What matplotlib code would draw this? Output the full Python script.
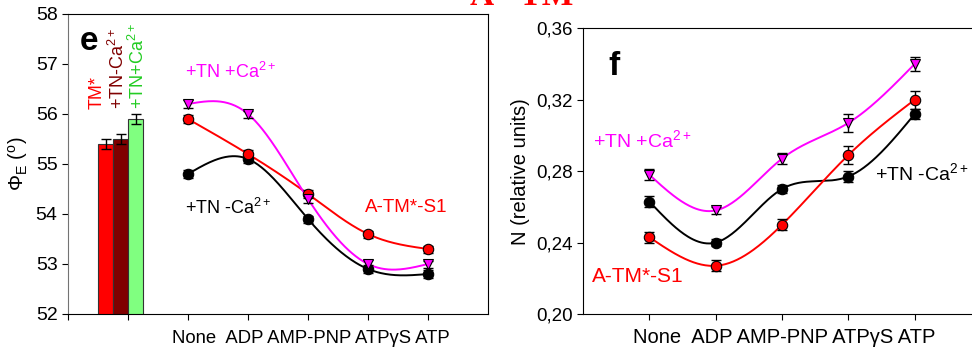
import numpy as np
import matplotlib
matplotlib.use("Agg")
import matplotlib.pyplot as plt
import matplotlib.transforms as mtransforms

plt.rcParams['font.family'] = ['Liberation Sans', 'DejaVu Sans']
plt.rcParams['mathtext.fontset'] = 'custom'
plt.rcParams['mathtext.rm'] = 'Liberation Sans'
plt.rcParams['mathtext.it'] = 'Liberation Sans:italic'
plt.rcParams['mathtext.bf'] = 'Liberation Sans:bold'

# ---------------- data ----------------
categories = ["None", "ADP", "AMP-PNP", "ATP\u03b3S", "ATP"]

bar_labels = ["TM*", "+TN-Ca$^{\\mathrm{2+}}$", "+TN+Ca$^{\\mathrm{2+}}$"]
bar_values = [55.4, 55.5, 55.9]
bar_errors = [0.1, 0.1, 0.1]
bar_colors = ["#ff0000", "#800000", "#80ff80"]
bar_text_colors = ["#ff0000", "#800000", "#22cc22"]

# panel e (phi_E)
e_tn_ca = [56.2, 56.0, 54.3, 53.0, 53.0]
e_tn_ca_err = [0.08, 0.07, 0.08, 0.08, 0.07]
e_atms1 = [55.9, 55.2, 54.4, 53.6, 53.3]
e_atms1_err = [0.08, 0.08, 0.08, 0.07, 0.07]
e_tn_noca = [54.8, 55.1, 53.9, 52.9, 52.8]
e_tn_noca_err = [0.08, 0.08, 0.07, 0.08, 0.08]

# panel f (N)
f_tn_ca = [0.278, 0.258, 0.287, 0.307, 0.340]
f_tn_ca_err = [0.003, 0.002, 0.003, 0.005, 0.004]
f_atms1 = [0.243, 0.227, 0.250, 0.289, 0.320]
f_atms1_err = [0.003, 0.003, 0.003, 0.005, 0.005]
f_tn_noca = [0.263, 0.240, 0.270, 0.277, 0.312]
f_tn_noca_err = [0.003, 0.002, 0.002, 0.003, 0.003]


def natural_spline(x, y, n=200):
    x = np.asarray(x, float)
    y = np.asarray(y, float)
    m = len(x)
    h = np.diff(x)
    A = np.zeros((m, m))
    b = np.zeros(m)
    A[0, 0] = 1
    A[-1, -1] = 1
    for i in range(1, m - 1):
        A[i, i - 1] = h[i - 1]
        A[i, i] = 2 * (h[i - 1] + h[i])
        A[i, i + 1] = h[i]
        b[i] = 3 * ((y[i + 1] - y[i]) / h[i] - (y[i] - y[i - 1]) / h[i - 1])
    c = np.linalg.solve(A, b)
    xs = np.linspace(x[0], x[-1], n)
    ys = np.empty_like(xs)
    for k, xv in enumerate(xs):
        i = min(np.searchsorted(x, xv, side='right') - 1, m - 2)
        i = max(i, 0)
        bi = (y[i + 1] - y[i]) / h[i] - h[i] * (2 * c[i] + c[i + 1]) / 3
        di = (c[i + 1] - c[i]) / (3 * h[i])
        dx = xv - x[i]
        ys[k] = y[i] + bi * dx + c[i] * dx ** 2 + di * dx ** 3
    return xs, ys


def series(ax, x, y, err, color, marker, ms):
    xs, ys = natural_spline(x, y)
    ax.plot(xs, ys, color=color, lw=1.4, zorder=2)
    ax.errorbar(x, y, yerr=err, fmt='none', ecolor='black', elinewidth=1,
                capsize=3.5, capthick=1, zorder=3)
    ax.plot(x, y, linestyle='none', marker=marker, ms=ms, mfc=color,
            mec='black', mew=0.8, zorder=4)


category_line = categories[0] + "  " + " ".join(categories[1:])

fig = plt.figure(figsize=(9.72, 3.52), dpi=100)

# ---------------- panel e ----------------
ax1 = fig.add_axes([68 / 972, 38 / 352, 420 / 972, 300 / 352])
ax1.set_xlim(0, 7)
ax1.set_ylim(52, 58)
bar_x = [0.625, 0.875, 1.125]
ax1.bar(bar_x, bar_values, width=0.25, bottom=0, color=bar_colors,
        edgecolor='#333333', linewidth=0.8, yerr=bar_errors,
        error_kw=dict(ecolor='black', elinewidth=1, capsize=3.5, capthick=1),
        zorder=2)
text_x = [0.48, 0.83, 1.17]
for tx, lab, col in zip(text_x, bar_labels, bar_text_colors):
    ax1.text(tx, 56.1, lab, rotation=90, ha='center', va='bottom',
             color=col, fontsize=13)

xc = np.arange(2, 7)
series(ax1, xc, e_tn_noca, e_tn_noca_err, 'black', 'o', 7.5)
series(ax1, xc, e_atms1, e_atms1_err, '#ff0000', 'o', 7.5)
series(ax1, xc, e_tn_ca, e_tn_ca_err, '#ff00ff', 'v', 7.5)

ax1.set_xticks(np.arange(0, 7))
ax1.set_xticklabels([])
ax1.set_yticks(np.arange(52, 59))
ax1.tick_params(axis='y', labelsize=14, direction='out', length=4)
ax1.tick_params(axis='x', direction='out', length=4)
ax1.spines['left'].set_color('0.45')
trans1 = mtransforms.blended_transform_factory(ax1.transData, ax1.transAxes)
ax1.text(4.05, -0.097, category_line, transform=trans1, ha='center',
         va='baseline', fontsize=13.3)
ax1.set_ylabel("\u03a6$_{\\mathrm{E}}$ ($^{\\mathrm{o}}$)", fontsize=14.5, labelpad=4)
ax1.text(0.2, 57.28, "e", fontsize=24, fontweight='bold', ha='left', va='baseline')
ax1.text(1.95, 56.84, "+TN +Ca$^{\\mathrm{2+}}$", color='#ff00ff', fontsize=13,
         ha='left', va='center')
ax1.text(1.95, 54.12, "+TN -Ca$^{\\mathrm{2+}}$", color='black', fontsize=13,
         ha='left', va='center')
ax1.text(4.95, 54.12, "A-TM*-S1", color='#ff0000', fontsize=13.5,
         ha='left', va='center')

# ---------------- panel f ----------------
ax2 = fig.add_axes([583 / 972, 38 / 352, 398 / 972, 285.7 / 352])
ax2.set_xlim(0, 6)
ax2.set_ylim(0.20, 0.36)
xf = np.arange(1, 6)
series(ax2, xf, f_tn_noca, f_tn_noca_err, 'black', 'o', 7.5)
series(ax2, xf, f_atms1, f_atms1_err, '#ff0000', 'o', 7.5)
series(ax2, xf, f_tn_ca, f_tn_ca_err, '#ff00ff', 'v', 7.5)
ax2.set_xticks(xf)
ax2.set_xticklabels([])
trans2 = mtransforms.blended_transform_factory(ax2.transData, ax2.transAxes)
ax2.text(3.04, -0.1, category_line, transform=trans2, ha='center',
         va='baseline', fontsize=14.5)
ax2.set_yticks([0.20, 0.24, 0.28, 0.32, 0.36])
ax2.set_yticklabels(["0,20", "0,24", "0,28", "0,32", "0,36"])
ax2.tick_params(axis='y', labelsize=13.5, direction='out', length=4)
ax2.tick_params(axis='x', direction='out', length=4)
ax2.set_ylabel("N (relative units)", fontsize=14.5, labelpad=4)
ax2.text(0.38, 0.3339, "f", fontsize=24, fontweight='bold', ha='left', va='baseline')
ax2.text(0.15, 0.2975, "+TN +Ca$^{\\mathrm{2+}}$", color='#ff00ff', fontsize=14,
         ha='left', va='center')
ax2.text(4.4, 0.279, "+TN -Ca$^{\\mathrm{2+}}$", color='black', fontsize=14,
         ha='left', va='center')
ax2.text(0.14, 0.221, "A-TM*-S1", color='#ff0000', fontsize=15,
         ha='left', va='center')

# cropped red title at the very top (only its bottom edge is visible)
fig.text(522 / 972, 1 - 5 / 352, "A - TM", color='#ff0000', fontsize=24,
         fontweight='bold', family='Liberation Serif', ha='center', va='baseline')

fig.savefig("out.png", dpi=100)
